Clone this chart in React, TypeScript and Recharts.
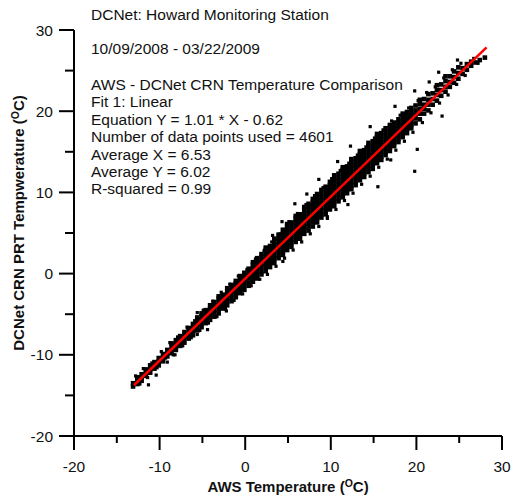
import { ScatterChart, Scatter, XAxis, YAxis } from "recharts";

// dense band, read column by column: [AWS temp, CRN temps in that column]
const coldColumns: [number, number[]][] = [
  [-13.1, [-13.9, -13.5]],
  [-12.6, [-13.6, -13.2, -12.8]],
  [-12.1, [-13.2, -12.8, -12.4]],
  [-11.6, [-12.6, -12.2, -11.8]],
  [-11.1, [-12.2, -11.8, -11.3]],
  [-10.6, [-11.7, -11.3, -10.9]],
  [-10.1, [-11.3, -10.8, -10.4]],
  [-9.6, [-10.8, -10.4, -9.9]],
  [-9.1, [-10.2, -9.8, -9.4]],
  [-8.6, [-9.8, -9.4, -8.9, -8.6]],
  [-8.1, [-9.4, -9.0, -8.6, -8.2]],
  [-7.6, [-8.9, -8.5, -8.1, -7.7]],
  [-7.1, [-8.5, -8.0, -7.6, -7.2]],
  [-6.6, [-8.0, -7.6, -7.1, -6.7]],
  [-6.1, [-7.6, -7.1, -6.7, -6.2]],
  [-5.6, [-7.0, -6.6, -6.2, -5.7, -5.4]],
  [-5.1, [-6.6, -6.2, -5.7, -5.3, -4.9]],
  [-4.6, [-6.1, -5.7, -5.2, -4.8, -4.5]],
];

const midColumns: [number, number[]][] = [
  [-4.1, [-5.7, -5.2, -4.8, -4.3, -3.9]],
  [-3.6, [-5.3, -4.8, -4.4, -3.9, -3.5]],
  [-3.1, [-4.9, -4.4, -3.9, -3.5, -3.1, -2.8]],
  [-2.6, [-4.3, -3.9, -3.4, -3.0, -2.6]],
  [-2.1, [-3.9, -3.4, -3.0, -2.6, -2.2, -1.8]],
  [-1.6, [-3.4, -3.0, -2.5, -2.1, -1.7, -1.4]],
  [-1.1, [-2.9, -2.5, -2.1, -1.6, -1.2, -0.9]],
  [-0.6, [-2.4, -2.0, -1.6, -1.1, -0.7, -0.3]],
  [-0.1, [-2.0, -1.5, -1.1, -0.7, -0.3, 0.1]],
  [0.4, [-1.5, -1.1, -0.6, -0.2, 0.2, 0.6]],
  [0.9, [-1.0, -0.6, -0.2, 0.3, 0.7, 1.1, 1.4]],
  [1.4, [-0.6, -0.2, 0.3, 0.7, 1.1, 1.5, 1.9]],
  [1.9, [-0.1, 0.3, 0.8, 1.2, 1.6, 2.0, 2.4]],
  [2.4, [0.3, 0.8, 1.2, 1.7, 2.1, 2.5, 2.9, 3.2]],
  [2.9, [0.8, 1.3, 1.7, 2.2, 2.6, 3.0, 3.4]],
  [3.4, [1.3, 1.8, 2.2, 2.7, 3.1, 3.5, 3.9, 4.3]],
  [3.9, [1.9, 2.3, 2.7, 3.2, 3.6, 4.0, 4.4, 4.8]],
  [4.4, [2.3, 2.7, 3.2, 3.6, 4.1, 4.5, 4.9, 5.4]],
  [4.9, [2.9, 3.3, 3.7, 4.1, 4.6, 5.0, 5.4, 5.8, 6.1]],
  [5.4, [3.3, 3.8, 4.2, 4.6, 5.1, 5.5, 5.9, 6.3]],
  [5.9, [3.9, 4.3, 4.7, 5.2, 5.6, 6.0, 6.4, 6.8, 7.1]],
  [6.4, [4.3, 4.8, 5.2, 5.7, 6.1, 6.5, 6.9, 7.3]],
  [6.9, [4.9, 5.3, 5.7, 6.2, 6.6, 7.0, 7.4, 7.8, 8.2]],
  [7.4, [5.3, 5.8, 6.2, 6.7, 7.1, 7.5, 7.9, 8.3, 8.6]],
];

const warmColumns: [number, number[]][] = [
  [7.9, [5.8, 6.3, 6.7, 7.1, 7.6, 8.0, 8.4, 8.8, 9.2]],
  [8.4, [6.3, 6.8, 7.2, 7.6, 8.1, 8.5, 8.9, 9.3, 9.8]],
  [8.9, [6.9, 7.3, 7.7, 8.2, 8.6, 9.0, 9.4, 9.8, 10.3]],
  [9.4, [7.3, 7.8, 8.2, 8.7, 9.1, 9.5, 9.9, 10.3, 10.7]],
  [9.9, [7.9, 8.3, 8.8, 9.2, 9.6, 10.0, 10.4, 10.9, 11.3]],
  [10.4, [8.3, 8.8, 9.2, 9.7, 10.1, 10.5, 10.9, 11.3, 11.7, 12.1]],
  [10.9, [8.9, 9.3, 9.7, 10.2, 10.6, 11.0, 11.4, 11.8, 12.3]],
  [11.4, [9.4, 9.8, 10.3, 10.7, 11.1, 11.5, 11.9, 12.3, 12.8, 13.1]],
  [11.9, [9.9, 10.3, 10.7, 11.2, 11.6, 12.0, 12.4, 12.8, 13.2]],
  [12.4, [10.4, 10.8, 11.3, 11.7, 12.1, 12.5, 12.9, 13.3, 13.7, 14.1]],
  [12.9, [10.9, 11.3, 11.8, 12.2, 12.6, 13.0, 13.4, 13.8, 14.2]],
  [13.4, [11.5, 11.9, 12.3, 12.7, 13.1, 13.5, 13.9, 14.3, 14.7, 15.1]],
  [13.9, [11.9, 12.3, 12.8, 13.2, 13.6, 14.0, 14.4, 14.8, 15.2]],
  [14.4, [12.5, 12.9, 13.3, 13.7, 14.1, 14.5, 14.9, 15.3, 15.7, 16.1]],
  [14.9, [12.9, 13.4, 13.8, 14.2, 14.6, 15.0, 15.4, 15.8, 16.3]],
  [15.4, [13.6, 14.0, 14.4, 14.8, 15.2, 15.6, 16.0, 16.4, 16.8, 17.2]],
  [15.9, [14.0, 14.4, 14.9, 15.3, 15.7, 16.1, 16.5, 16.9, 17.3]],
  [16.4, [14.6, 15.0, 15.4, 15.8, 16.2, 16.6, 17.0, 17.4, 17.9]],
  [16.9, [15.1, 15.5, 15.9, 16.3, 16.7, 17.1, 17.5, 17.9, 18.3]],
  [17.4, [15.7, 16.1, 16.5, 16.9, 17.3, 17.7, 18.1, 18.6]],
  [17.9, [16.2, 16.6, 17.0, 17.4, 17.8, 18.2, 18.6, 19.0]],
  [18.4, [16.8, 17.2, 17.6, 18.0, 18.4, 18.8, 19.2, 19.7]],
  [18.9, [17.3, 17.8, 18.2, 18.6, 19.0, 19.4, 19.9]],
  [19.4, [17.9, 18.3, 18.7, 19.1, 19.5, 19.9, 20.4]],
];

const hotColumns: [number, number[]][] = [
  [19.9, [18.5, 19.1, 19.6, 20.1, 20.7]],
  [20.4, [19.0, 19.7, 20.3, 20.9, 21.4]],
  [20.9, [19.7, 20.3, 20.8, 21.5]],
  [21.4, [20.1, 20.8, 21.4, 22.1]],
  [21.9, [20.8, 21.5, 22.2]],
  [22.4, [21.3, 22.0, 22.6, 23.2]],
  [22.9, [21.9, 22.6, 23.3]],
  [23.4, [22.4, 23.0, 23.7, 24.3]],
  [23.9, [23.0, 23.6, 24.3]],
  [24.4, [23.5, 24.2, 24.9]],
  [24.9, [24.0, 24.7, 25.4]],
  [25.4, [24.6, 25.3]],
  [25.9, [25.1, 25.8]],
  [26.4, [25.6, 26.1]],
  [26.9, [26.0]],
  [27.4, [26.3]],
  [28.0, [26.6]],
];

// loose points along the edges of the band
const fringe: [number, number][] = [
  [-12.8, -12.6], [-12.3, -13.6], [-11.9, -11.7], [-11.4, -12.8], [-10.9, -11.0],
  [-10.3, -11.6], [-9.8, -9.6], [-9.3, -10.4], [-8.8, -8.5], [-8.4, -10.0],
  [-7.9, -7.8], [-7.3, -8.9], [-6.8, -6.6], [-6.3, -7.9], [-5.9, -5.8],
  [-5.3, -7.0], [-4.9, -4.5], [-4.3, -6.1], [-3.8, -3.4], [-3.3, -5.3],
  [-2.8, -2.3], [-2.3, -4.3], [-1.8, -1.3], [-1.3, -3.3], [-0.8, -0.3],
  [-0.3, -2.5], [0.2, 0.5], [0.7, -1.5], [1.2, 1.8], [1.7, -0.7],
  [2.2, 2.8], [2.6, -0.1], [3.1, 3.9], [3.6, 0.9], [4.1, 4.9],
  [4.6, 1.9], [5.1, 6.4], [5.6, 2.9], [6.1, 7.4], [6.6, 3.9],
  [7.1, 8.5], [7.6, 4.9], [8.1, 9.6], [8.6, 5.8], [9.1, 10.6],
  [9.6, 6.8], [10.1, 11.7], [10.6, 7.9], [11.1, 12.7], [11.6, 9.0],
  [12.1, 13.6], [12.6, 9.9], [13.1, 14.6], [13.6, 11.0], [14.1, 15.6],
  [14.6, 12.0], [15.1, 16.7], [15.6, 13.1], [16.1, 17.7], [16.6, 14.1],
  [17.1, 18.8], [17.6, 15.2], [18.1, 19.5], [18.6, 16.3], [19.1, 20.4],
  [19.6, 17.4], [20.2, 21.3], [20.7, 18.6], [21.2, 22.3], [21.7, 19.8],
  [22.2, 23.0], [22.7, 21.0], [23.2, 24.1], [23.7, 22.0], [24.2, 25.1],
  [24.7, 23.3], [25.2, 25.9], [25.7, 24.4], [26.7, 26.5], [27.2, 25.9],
];

const outliers: [number, number][] = [
  [-12.4, -12.7], [-11.3, -13.7], [-10.4, -12.5], [-9.1, -10.9], [-8.2, -10.0],
  [-5.6, -7.5], [-4.4, -6.9], [-5.6, -4.8], [-2.2, -4.6], [3.2, 4.7],
  [4.4, 1.5], [4.3, 6.4], [5.8, 8.6], [7.2, 9.8], [8.6, 11.6],
  [9.6, 7.0], [10.8, 13.8], [12.0, 8.5], [12.3, 15.7], [14.6, 18.1],
  [15.5, 10.7], [17.0, 14.0], [17.5, 20.6], [19.8, 12.6], [20.1, 15.3],
  [23.0, 19.4], [19.8, 22.5], [21.5, 23.6], [22.6, 24.8], [24.8, 26.3],
];

// linear fit Y = 1.01 * X - 0.62, drawn over the data range
const fitX = [-13.0, 28.2];
const fitY = [-13.75, 27.86];

const axisTicks = [-20, -15, -10, -5, 0, 5, 10, 15, 20, 25, 30];
const majorTicks = [-20, -10, 0, 10, 20, 30];

const noteLines = [
  "AWS - DCNet CRN Temperature Comparison",
  "Fit 1: Linear",
  "Equation Y = 1.01 * X - 0.62",
  "Number of data points used = 4601",
  "Average X = 6.53",
  "Average Y = 6.02",
  "R-squared = 0.99",
];

const toPoints = (cols: [number, number[]][]) =>
  cols.flatMap(([x, ys]) => ys.map((y) => ({ x, y })));

const bandPoints = [
  ...toPoints(coldColumns),
  ...toPoints(midColumns),
  ...toPoints(warmColumns),
  ...toPoints(hotColumns),
];
const loosePoints = [...fringe, ...outliers].map(([x, y]) => ({ x, y }));
const fitPoints = fitX.map((x, i) => ({ x, y: fitY[i] }));

const FONT = "'Liberation Sans', Arial, sans-serif";
const INK = "#111";

const BandDot = (p: any) => (
  <rect x={p.cx - 2.3} y={p.cy - 2.3} width={4.6} height={4.6} fill="#000" />
);
const SmallDot = (p: any) => (
  <rect x={p.cx - 1.6} y={p.cy - 1.6} width={3.2} height={3.2} fill="#000" />
);

const XTick = ({ x, y, payload }: any) => {
  const major = majorTicks.includes(payload.value);
  return (
    <g>
      <line x1={x} x2={x} y1={y} y2={y + (major ? 14 : 7)} stroke="#000" strokeWidth={2} />
      {major && (
        <text x={x} y={y + 36} textAnchor="middle" fontSize={15.5} fontFamily={FONT} fill={INK}>
          {payload.value}
        </text>
      )}
    </g>
  );
};

const YTick = ({ x, y, payload }: any) => {
  const major = majorTicks.includes(payload.value);
  return (
    <g>
      <line x1={x - (major ? 15 : 9)} x2={x} y1={y} y2={y} stroke="#000" strokeWidth={2} />
      {major && (
        <text x={x - 21} y={y + 5.5} textAnchor="end" fontSize={15.5} fontFamily={FONT} fill={INK}>
          {payload.value}
        </text>
      )}
    </g>
  );
};

const Sup = () => <span style={{ fontSize: "0.7em", verticalAlign: "0.45em" }}>O</span>;

export default function App() {
  return (
    <div style={{ position: "absolute", left: 0, top: 0, width: 512, height: 495, background: "#fff", fontFamily: FONT, color: INK }}>
      <ScatterChart width={512} height={495} margin={{ top: 30, right: 10, bottom: 0, left: 0 }}>
        <XAxis
          type="number"
          dataKey="x"
          domain={[-20, 30]}
          ticks={axisTicks}
          interval={0}
          allowDataOverflow
          height={59}
          tickSize={0}
          tickMargin={0}
          tickLine={false}
          axisLine={{ stroke: "#000", strokeWidth: 2 }}
          tick={XTick}
        />
        <YAxis
          type="number"
          dataKey="y"
          domain={[-20, 30]}
          ticks={axisTicks}
          interval={0}
          allowDataOverflow
          width={74}
          tickSize={0}
          tickMargin={0}
          tickLine={false}
          axisLine={{ stroke: "#000", strokeWidth: 2 }}
          tick={YTick}
        />
        <Scatter data={bandPoints} shape={BandDot} isAnimationActive={false} />
        <Scatter data={loosePoints} shape={SmallDot} isAnimationActive={false} />
        <Scatter
          data={fitPoints}
          line={{ stroke: "#ff0000", strokeWidth: 2.5 }}
          shape={() => <g />}
          isAnimationActive={false}
        />
      </ScatterChart>

      <div style={{ position: "absolute", left: 91, top: 6, fontSize: 15.5, lineHeight: "18px", whiteSpace: "nowrap" }}>
        DCNet: Howard Monitoring Station
      </div>
      <div style={{ position: "absolute", left: 91, top: 40, fontSize: 15.5, lineHeight: "18px", whiteSpace: "nowrap" }}>
        10/09/2008 - 03/22/2009
      </div>
      <div style={{ position: "absolute", left: 91, top: 76, fontSize: 15.5, lineHeight: "17.4px", whiteSpace: "nowrap" }}>
        {noteLines.map((t) => (
          <div key={t}>{t}</div>
        ))}
      </div>

      <div
        style={{
          position: "absolute",
          left: 288,
          top: 486,
          transform: "translate(-50%, -50%)",
          fontSize: 15,
          fontWeight: "bold",
          whiteSpace: "nowrap",
        }}
      >
        AWS Temperature (<Sup />C)
      </div>
      <div
        style={{
          position: "absolute",
          left: 18,
          top: 223,
          transform: "translate(-50%, -50%) rotate(-90deg)",
          fontSize: 15,
          fontWeight: "bold",
          whiteSpace: "nowrap",
        }}
      >
        DCNet CRN PRT Tempwerature (<Sup />C)
      </div>
    </div>
  );
}
